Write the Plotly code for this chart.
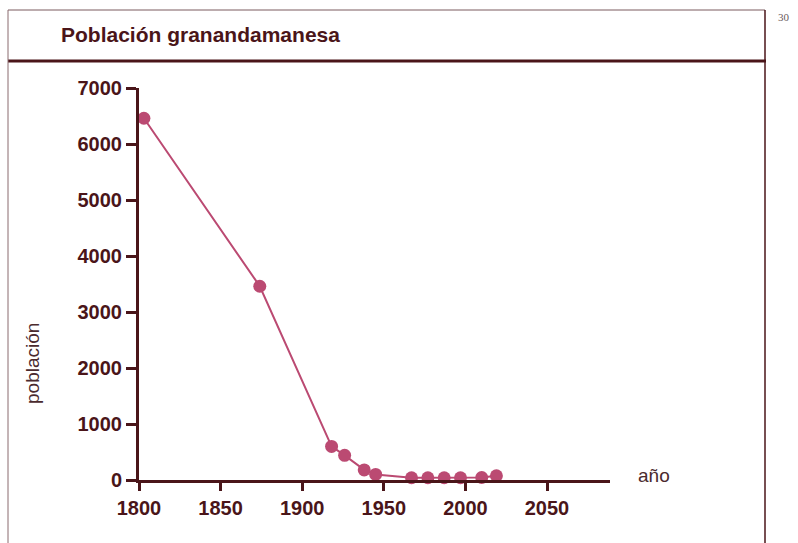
import plotly.graph_objects as go

# Great Andamanese population over time
years = [1803, 1874, 1918, 1926, 1938, 1945, 1967, 1977, 1987, 1997, 2010, 2019]
population = [6460, 3460, 600, 440, 180, 100, 40, 40, 40, 40, 45, 75]

x_ticks = [1800, 1850, 1900, 1950, 2000, 2050]
y_ticks = [0, 1000, 2000, 3000, 4000, 5000, 6000, 7000]

DARK = "#4a1519"
LINE = "#bb4a72"
W, H = 798, 543
L, R, T, B = 139, 610, 88, 480   # plot-area pixel bounds


def px(x):
    return (x - L) / (R - L)


def py(y):
    return (B - y) / (B - T)


fig = go.Figure()
fig.add_trace(go.Scatter(
    x=years, y=population, mode="lines+markers",
    line=dict(color=LINE, width=2),
    marker=dict(color=LINE, size=13),
    cliponaxis=False, hoverinfo="x+y",
))

axis_font = dict(family="Liberation Sans, Arial, sans-serif", size=20, color=DARK, weight="bold")

fig.update_xaxes(
    range=[1800, 1800 + (R - L) / 1.632], tickvals=x_ticks,
    showline=True, linecolor=DARK, linewidth=3,
    ticks="outside", ticklen=8, tickwidth=3, tickcolor=DARK,
    showgrid=False, zeroline=False, tickfont=axis_font,
)
fig.update_yaxes(
    range=[0, 7000], tickvals=y_ticks,
    showline=True, linecolor=DARK, linewidth=3,
    ticks="outside", ticklen=10, tickwidth=3, tickcolor=DARK,
    showgrid=False, zeroline=False, tickfont=axis_font,
)

shapes = [
    # frame: thin top rule, heavy rule under the title, side borders
    dict(type="line", xref="paper", yref="paper", x0=px(8), x1=px(765), y0=py(10), y1=py(10),
         line=dict(color="#7a5a5e", width=1)),
    dict(type="line", xref="paper", yref="paper", x0=px(8), x1=px(766), y0=py(61), y1=py(61),
         line=dict(color=DARK, width=3)),
    dict(type="line", xref="paper", yref="paper", x0=px(8), x1=px(8), y0=py(10), y1=py(560),
         line=dict(color="#8a6a6e", width=1)),
    dict(type="line", xref="paper", yref="paper", x0=px(765), x1=px(765), y0=py(10), y1=py(560),
         line=dict(color=DARK, width=1.5)),
]

annotations = [
    dict(text="Población granandamanesa", xref="paper", yref="paper", x=px(59), y=py(34),
         xanchor="left", yanchor="middle", showarrow=False,
         font=dict(family="Liberation Sans, Arial, sans-serif", size=21, color=DARK, weight="bold")),
    dict(text="30", xref="paper", yref="paper", x=px(776), y=py(17),
         xanchor="left", yanchor="middle", showarrow=False,
         font=dict(family="Liberation Serif, serif", size=11, color="#6a5a5c")),
    dict(text="población", xref="paper", yref="paper", x=px(32), y=py(364),
         xanchor="center", yanchor="middle", showarrow=False, textangle=-90,
         font=dict(family="Liberation Sans, Arial, sans-serif", size=19, color="#4a2a2e")),
    dict(text="año", xref="paper", yref="paper", x=px(636), y=py(475),
         xanchor="left", yanchor="middle", showarrow=False,
         font=dict(family="Liberation Sans, Arial, sans-serif", size=19, color="#4a2a2e")),
]

fig.update_layout(
    width=W, height=H,
    margin=dict(l=L, r=W - R, t=T, b=H - B),
    paper_bgcolor="white", plot_bgcolor="white",
    showlegend=False, shapes=shapes, annotations=annotations,
)

fig.write_html("out.html")
